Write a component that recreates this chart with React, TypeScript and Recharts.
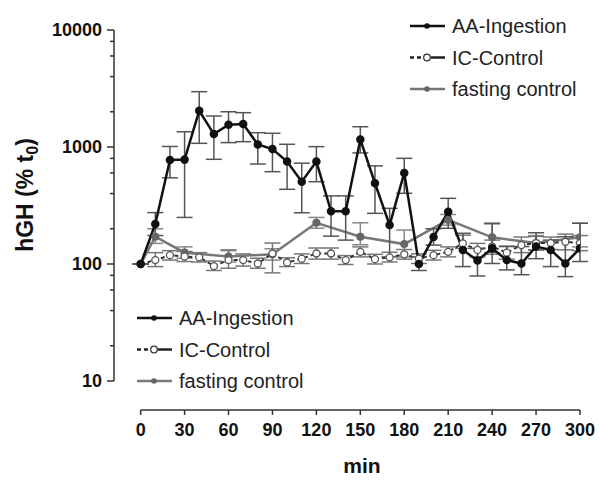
import React from "react";
import {
  LineChart,
  Line,
  XAxis,
  YAxis,
  ErrorBar,
  ReferenceLine,
} from "recharts";

// time points (min)
const TIME = [
  0, 10, 20, 30, 40, 50, 60, 70, 80, 90, 100, 110, 120, 130, 140, 150, 160,
  170, 180, 190, 200, 210, 220, 230, 240, 250, 260, 270, 280, 290, 300,
];
const FAST_TIME = [0, 10, 30, 60, 90, 120, 150, 180, 210, 240, 270, 300];

// AA-Ingestion, mean with upper / lower error ends
const AA_MEAN = [
  100, 220, 775, 780, 2040, 1290, 1550, 1570, 1050, 960, 750, 505, 750, 282,
  282, 1160, 490, 215, 600, 100, 170, 280, 132, 107, 136, 108, 101, 141, 132,
  101, 136,
];
const AA_HIGH = [
  100, 275, 1010, 1350, 2970, 1840, 2000, 1965, 1325, 1310, 1055, 727, 1007,
  382, 382, 1490, 690, 299, 800, 115, 200, 364, 183, 136, 223, 141, 141, 185,
  160, 171, 223,
];
const AA_LOW = [
  100, 175, 545, 250, 1075, 785, 1090, 1110, 715, 615, 435, 274, 505, 173, 160,
  890, 271, 115, 402, 88, 145, 202, 95, 79, 101, 89, 81, 111, 95, 78, 105,
];

// IC-Control
const IC_MEAN = [
  100, 108, 119, 116, 114, 96, 108, 108, 101, 123, 103, 111, 123, 123, 108, 127,
  110, 114, 121, 111, 119, 127, 150, 132, 141, 125, 145, 151, 151, 155, 151,
];
const IC_HIGH = [
  100, 125, 130, 128, 125, 106, 132, 122, 112, 151, 113, 122, 137, 137, 118,
  140, 121, 126, 133, 122, 131, 140, 176, 150, 160, 142, 170, 172, 170, 180,
  175,
];
const IC_LOW = [
  100, 95, 108, 105, 104, 88, 92, 96, 92, 84, 95, 101, 110, 110, 99, 115, 100,
  104, 110, 101, 108, 115, 136, 115, 125, 110, 125, 132, 133, 132, 130,
];

// fasting control
const FAST_MEAN = [100, 171, 125, 116, 121, 225, 171, 148, 238, 169, 151, 169];
const FAST_HIGH = [100, 200, 140, 130, 135, 250, 225, 195, 265, 220, 175, 223];
const FAST_LOW = [100, 150, 112, 104, 108, 202, 146, 115, 215, 121, 131, 140];

const X_TICKS = [0, 30, 60, 90, 120, 150, 180, 210, 240, 270, 300];
const Y_MAJOR = [10, 100, 1000, 10000];
const Y_TICKS = [
  10, 20, 40, 60, 80, 100, 200, 400, 600, 800, 1000, 2000, 4000, 6000, 8000,
  10000,
];

const X_MIN = -18.2;
const Y_MIN = 5.65;

const FONT = '"Liberation Sans", Arial, sans-serif';

const build = (t: number[], mean: number[], hi: number[], lo: number[]) =>
  t.map((x, i) => ({
    t: x,
    v: mean[i],
    err: [mean[i] - lo[i], hi[i] - mean[i]],
  }));

const aaData = build(TIME, AA_MEAN, AA_HIGH, AA_LOW);
const icData = build(TIME, IC_MEAN, IC_HIGH, IC_LOW);
const fastData = build(FAST_TIME, FAST_MEAN, FAST_HIGH, FAST_LOW);

const LEGEND = [
  { name: "AA-Ingestion", kind: "aa" },
  { name: "IC-Control", kind: "ic" },
  { name: "fasting control", kind: "fast" },
];

function YTick(props: any) {
  const { x, y, payload } = props;
  const major = Y_MAJOR.includes(payload.value);
  return (
    <g>
      <line
        x1={x - (major ? 7 : 4)}
        x2={x}
        y1={y}
        y2={y}
        stroke="#333"
        strokeWidth={1.5}
      />
      {major && (
        <text
          x={x - 12}
          y={y}
          dy="0.36em"
          textAnchor="end"
          fontSize={18}
          fontWeight="bold"
          fontFamily={FONT}
          fill="#111"
        >
          {payload.value}
        </text>
      )}
    </g>
  );
}

function LegendBox({ left, top }: { left: number; top: number }) {
  return (
    <svg
      width={200}
      height={100}
      style={{ position: "absolute", left, top, overflow: "visible" }}
    >
      {LEGEND.map((item, i) => {
        const y = 8 + i * 31.5;
        return (
          <g key={item.name}>
            {item.kind === "aa" && (
              <>
                <line x1={0} x2={35} y1={y} y2={y} stroke="#111" strokeWidth={2.5} />
                <circle cx={17} cy={y} r={2.8} fill="#111" />
              </>
            )}
            {item.kind === "ic" && (
              <>
                <line x1={0} x2={4} y1={y} y2={y} stroke="#222" strokeWidth={2.5} />
                <line x1={7} x2={11} y1={y} y2={y} stroke="#222" strokeWidth={2.5} />
                <circle cx={17} cy={y} r={3.3} fill="#fff" stroke="#333" strokeWidth={1.3} />
                <line x1={21} x2={35} y1={y} y2={y} stroke="#222" strokeWidth={2.5} />
              </>
            )}
            {item.kind === "fast" && (
              <>
                <line x1={0} x2={35} y1={y} y2={y} stroke="#777" strokeWidth={2.5} />
                <circle cx={17} cy={y} r={2.8} fill="#666" />
              </>
            )}
            <text
              x={42}
              y={y}
              dy="0.36em"
              fontSize={20}
              fontFamily={FONT}
              fill="#222"
            >
              {item.name}
            </text>
          </g>
        );
      })}
    </svg>
  );
}

export default function App() {
  return (
    <div
      style={{
        position: "absolute",
        left: 0,
        top: 0,
        width: 600,
        height: 485,
        background: "#fff",
      }}
    >
      <LineChart
        width={600}
        height={485}
        margin={{ top: 30, right: 20, left: 0, bottom: 0 }}
      >
        <XAxis
          dataKey="t"
          type="number"
          domain={[X_MIN, 300]}
          ticks={X_TICKS}
          allowDataOverflow
          axisLine={false}
          tickSize={5}
          tickMargin={8}
          height={75}
          tickLine={{ stroke: "#333", strokeWidth: 1.5 }}
          tick={{
            fontSize: 18,
            fontWeight: "bold",
            fill: "#111",
            fontFamily: FONT,
          }}
          label={{
            content: () => (
              <text
                x={362}
                y={473}
                textAnchor="middle"
                fontSize={21}
                fontWeight="bold"
                fontFamily={FONT}
                fill="#111"
              >
                min
              </text>
            ),
          }}
        />
        <YAxis
          scale="log"
          domain={[Y_MIN, 10000]}
          ticks={Y_TICKS}
          allowDataOverflow
          width={114}
          axisLine={false}
          tickLine={false}
          tickSize={0}
          tickMargin={0}
          tick={<YTick />}
          interval={0}
          label={{
            content: () => (
              <text
                x={33}
                y={195}
                transform="rotate(-90 33 195)"
                textAnchor="middle"
                fontSize={23}
                fontWeight="bold"
                fontFamily={FONT}
                fill="#111"
              >
                hGH (% t
                <tspan fontSize={16} dy={5}>
                  0
                </tspan>
                <tspan dy={-5}>)</tspan>
              </text>
            ),
          }}
        />
        <ReferenceLine
          segment={[
            { x: X_MIN, y: 10 },
            { x: X_MIN, y: 10000 },
          ]}
          stroke="#333"
          strokeWidth={1.5}
        />
        <ReferenceLine
          segment={[
            { x: 0, y: Y_MIN },
            { x: 300, y: Y_MIN },
          ]}
          stroke="#333"
          strokeWidth={1.5}
        />
        <Line
          data={fastData}
          dataKey="v"
          stroke="#777"
          strokeWidth={2.5}
          dot={{ r: 2.8, fill: "#666", stroke: "#666" }}
          isAnimationActive={false}
        >
          <ErrorBar dataKey="err" width={8} stroke="#888" strokeWidth={1.5} direction="y" />
        </Line>
        <Line
          data={icData}
          dataKey="v"
          stroke="#333"
          strokeWidth={2}
          strokeDasharray="4 3"
          dot={{ r: 3.5, fill: "#fff", stroke: "#555", strokeWidth: 1.3, strokeDasharray: "0" }}
          isAnimationActive={false}
        >
          <ErrorBar dataKey="err" width={8} stroke="#777" strokeWidth={1.5} direction="y" />
        </Line>
        <Line
          data={aaData}
          dataKey="v"
          stroke="#111"
          strokeWidth={2.5}
          dot={{ r: 3, fill: "#111", stroke: "#111" }}
          isAnimationActive={false}
        >
          <ErrorBar dataKey="err" width={8} stroke="#555" strokeWidth={1.5} direction="y" />
        </Line>
      </LineChart>
      <LegendBox left={410} top={18} />
      <LegendBox left={137} top={310} />
    </div>
  );
}
